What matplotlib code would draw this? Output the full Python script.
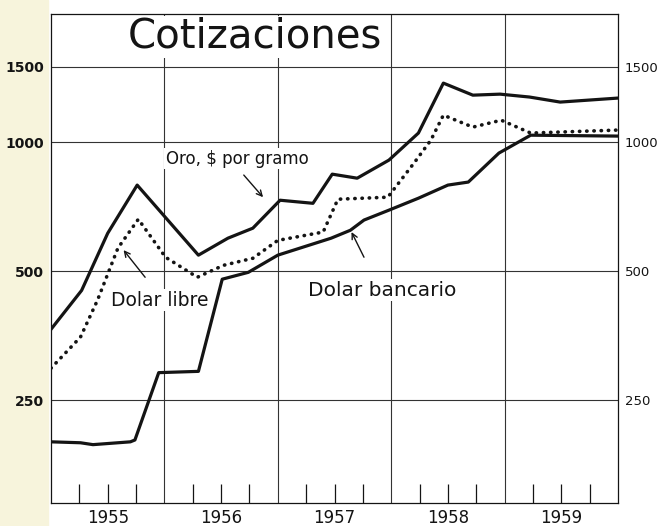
import matplotlib
matplotlib.use("Agg")
import matplotlib.pyplot as plt
from matplotlib.patches import Rectangle
from matplotlib.ticker import FixedLocator, NullLocator, FixedFormatter

# ---------------------------------------------------------------------------
# data (log scale, fractional years)
# ---------------------------------------------------------------------------
oro_x = [1955.00, 1955.27, 1955.50, 1955.76, 1956.30, 1956.56, 1956.78, 1957.02,
         1957.31, 1957.48, 1957.70, 1957.98, 1958.24, 1958.46, 1958.72, 1958.96,
         1959.22, 1959.49, 1960.00]
oro_y = [366, 451, 613, 794, 545, 597, 630, 732, 720, 842, 824, 908, 1050, 1373,
         1287, 1294, 1274, 1240, 1267]

libre_x = [1955.00, 1955.26, 1955.41, 1955.59, 1955.77, 1956.01, 1956.29, 1956.52,
           1956.78, 1957.00, 1957.40, 1957.53, 1957.97, 1958.20, 1958.35, 1958.46,
           1958.72, 1958.97, 1959.23, 1960.00]
libre_y = [297, 351, 428, 566, 661, 539, 484, 516, 536, 590, 617, 736, 744, 893,
           1011, 1156, 1084, 1125, 1050, 1067]

banc_x = [1955.00, 1955.26, 1955.37, 1955.70, 1955.74, 1955.95, 1956.30, 1956.51,
          1956.74, 1957.00, 1957.47, 1957.64, 1957.76, 1957.98, 1958.24, 1958.50,
          1958.68, 1958.95, 1959.23, 1960.00]
banc_y = [200, 199, 197, 200, 202, 290, 292, 479, 497, 545, 597, 623, 658, 694,
          740, 794, 807, 943, 1038, 1033]

y_ticks = [250, 500, 1000, 1500]
y_labels = ["250", "500", "1000", "1500"]
years = [1955, 1956, 1957, 1958, 1959]

INK = "#141414"

fig = plt.figure(figsize=(6.61, 5.26), dpi=100)
fig.patch.set_facecolor("white")
# cream paper edge on the left
fig.patches.append(Rectangle((0, 0), 48 / 661, 1, transform=fig.transFigure,
                             color="#f7f4dc", zorder=-10))

ax = fig.add_axes([51 / 661, 1 - 503 / 526, 567 / 661, 489 / 526])
ax.set_facecolor("white")
ax.set_yscale("log")
ax.set_xlim(1955, 1960)
ax.set_ylim(144, 1990)

# grid: horizontal at labelled values, vertical at year boundaries
for v in y_ticks:
    ax.axhline(v, color="#333333", lw=0.8, zorder=1)
for yr in years[1:]:
    ax.axvline(yr, color="#333333", lw=0.8, zorder=1)

ax.plot(oro_x, oro_y, color=INK, lw=2.3, solid_joinstyle="round", zorder=3)
ax.plot(libre_x, libre_y, color=INK, lw=2.6, linestyle=(0, (0.1, 1.9)),
        dash_capstyle="round", zorder=3)
ax.plot(banc_x, banc_y, color=INK, lw=2.3, solid_joinstyle="round", zorder=3)

# y axis: labels both sides, no tick marks
ax.yaxis.set_major_locator(FixedLocator(y_ticks))
ax.yaxis.set_major_formatter(FixedFormatter(y_labels))
ax.yaxis.set_minor_locator(NullLocator())
ax.tick_params(axis="y", which="major", length=0, labelright=True, pad=5,
               labelsize=10, colors=INK)
for t in ax.yaxis.get_major_ticks():
    t.label1.set_fontweight("bold")
    t.label2.set_fontweight("normal")
    t.label2.set_fontsize(9.5)

# x axis: quarter ticks pointing in, year labels mid-year
ax.xaxis.set_major_locator(FixedLocator([y + 0.5 for y in years]))
ax.xaxis.set_major_formatter(FixedFormatter([str(y) for y in years]))
ax.xaxis.set_minor_locator(FixedLocator([y + q for y in years for q in (0.25, 0.75)]))
ax.tick_params(axis="x", which="both", direction="in", length=14, width=0.9,
               color=INK, top=False)
ax.tick_params(axis="x", which="major", labelsize=12, pad=4, colors=INK)

for s in ax.spines.values():
    s.set_color(INK)
    s.set_linewidth(0.9)

# title and labels
ax.text(0.36, 0.953, "Cotizaciones", transform=ax.transAxes, ha="center",
        va="center", fontsize=29, color=INK, zorder=5,
        bbox=dict(facecolor="white", edgecolor="none", pad=1))
ax.text(1956.64, 915, "Oro, $ por gramo", ha="center", va="center", fontsize=12,
        color=INK, zorder=5, bbox=dict(facecolor="white", edgecolor="none", pad=1))
ax.text(1955.96, 428, "Dolar libre", ha="center", va="center", fontsize=13.5,
        color=INK, zorder=5, bbox=dict(facecolor="white", edgecolor="none", pad=1))
ax.text(1957.92, 452, "Dolar bancario", ha="center", va="center", fontsize=14.5,
        color=INK, zorder=5, bbox=dict(facecolor="white", edgecolor="none", pad=1))

arrow = dict(arrowstyle="->", color=INK, lw=1.0, shrinkA=0, shrinkB=0)
ax.annotate("", xy=(1956.87, 744), xytext=(1956.70, 838), arrowprops=arrow, zorder=4)
ax.annotate("", xy=(1955.64, 560), xytext=(1955.83, 484), arrowprops=arrow, zorder=4)
ax.annotate("", xy=(1957.65, 617), xytext=(1957.76, 539), arrowprops=arrow, zorder=4)

fig.savefig("out.png", dpi=100)
